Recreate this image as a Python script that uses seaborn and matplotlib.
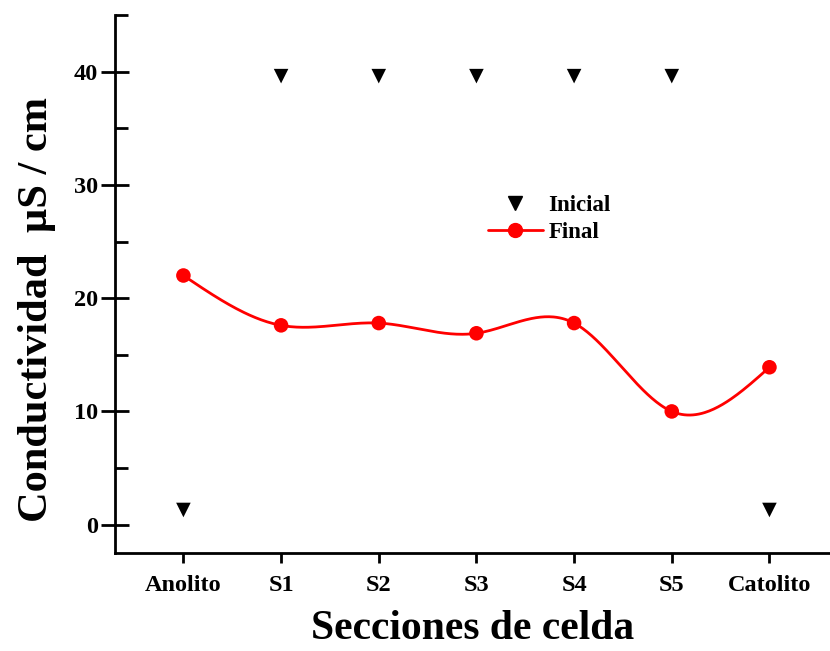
import numpy as np
import pandas as pd
import matplotlib
matplotlib.use("Agg")
import matplotlib.pyplot as plt
from matplotlib.lines import Line2D
from matplotlib.ticker import MultipleLocator
import seaborn as sns

# Conductivity per cell section
sections = ["Anolito", "S1", "S2", "S3", "S4", "S5", "Catolito"]
inicial = [1.3, 39.6, 39.6, 39.6, 39.6, 39.6, 1.3]
final = [22.0, 17.6, 17.8, 16.9, 17.8, 10.0, 13.9]

sns.set_theme(style="ticks")
plt.rcParams["font.family"] = ["Liberation Serif", "DejaVu Serif"]
plt.rcParams["font.weight"] = "bold"
plt.rcParams["text.color"] = "black"
plt.rcParams["axes.labelcolor"] = "black"
plt.rcParams["xtick.color"] = "black"
plt.rcParams["ytick.color"] = "black"


def natural_spline(x, y, n=400):
    """Natural cubic spline through (x, y), evaluated on a fine grid."""
    x = np.asarray(x, float)
    y = np.asarray(y, float)
    k = len(x)
    h = np.diff(x)
    A = np.zeros((k, k))
    b = np.zeros(k)
    A[0, 0] = A[-1, -1] = 1.0
    for i in range(1, k - 1):
        A[i, i - 1] = h[i - 1]
        A[i, i] = 2 * (h[i - 1] + h[i])
        A[i, i + 1] = h[i]
        b[i] = 6 * ((y[i + 1] - y[i]) / h[i] - (y[i] - y[i - 1]) / h[i - 1])
    m = np.linalg.solve(A, b)
    xs = np.linspace(x[0], x[-1], n)
    idx = np.clip(np.searchsorted(x, xs) - 1, 0, k - 2)
    x0, x1 = x[idx], x[idx + 1]
    hh = x1 - x0
    t0 = x1 - xs
    t1 = xs - x0
    ys = (m[idx] * t0 ** 3 + m[idx + 1] * t1 ** 3) / (6 * hh) \
        + (y[idx] / hh - m[idx] * hh / 6) * t0 \
        + (y[idx + 1] / hh - m[idx + 1] * hh / 6) * t1
    return xs, ys


pos = np.arange(len(sections))
df = pd.DataFrame({"pos": pos, "section": sections, "Inicial": inicial, "Final": final})

fig = plt.figure(figsize=(8.30, 6.51), dpi=100)
ax = fig.add_axes([0.1386, 0.1505, 0.8614, 0.8265])

xs, ys = natural_spline(df["pos"], df["Final"])
ax.plot(xs, ys, color="red", lw=2, zorder=2)
sns.scatterplot(data=df, x="pos", y="Final", ax=ax, color="red", marker="o",
                s=110, edgecolor="none", zorder=3, legend=False)
sns.scatterplot(data=df, x="pos", y="Inicial", ax=ax, color="black", marker="v",
                s=110, edgecolor="none", zorder=3, legend=False)

ax.set_xlim(-0.7, 6.62)
ax.set_ylim(-2.5, 45)
ax.set_xticks(pos)
ax.set_xticklabels(sections)
ax.yaxis.set_major_locator(MultipleLocator(10))
ax.yaxis.set_minor_locator(MultipleLocator(5))
ax.set_yticks([0, 10, 20, 30, 40])

for s in ["top", "right"]:
    ax.spines[s].set_visible(False)
for s in ["left", "bottom"]:
    ax.spines[s].set_linewidth(2)
    ax.spines[s].set_color("black")

ax.tick_params(axis="y", which="major", direction="inout", length=20, width=2,
               labelsize=17.5, pad=2, colors="black")
ax.tick_params(axis="y", which="minor", direction="in", length=9.5, width=2)
ax.tick_params(axis="x", which="major", direction="out", length=7, width=2,
               labelsize=17.5, pad=9, colors="black")
for lab in ax.get_xticklabels() + ax.get_yticklabels():
    lab.set_fontweight("bold")

ax.set_xlabel("Secciones de celda", fontsize=30, fontweight="bold", labelpad=10)
ax.set_ylabel("Conductividad  µS / cm", fontsize=30.5, fontweight="bold")
ax.yaxis.set_label_coords(-0.083, 0.452)

handles = [
    Line2D([], [], color="black", marker="v", linestyle="none", markersize=10),
    Line2D([], [], color="red", marker="o", lw=2, markersize=10),
]
ax.legend(handles, ["Inicial", "Final"], loc="center left",
          bbox_to_anchor=(467 / 830, 1 - 219 / 651),
          bbox_transform=fig.transFigure, frameon=False,
          prop={"size": 16.5, "weight": "bold"}, handlelength=2.4,
          handletextpad=0.25, labelspacing=0.3, borderpad=0.4)

fig.savefig("out.png", dpi=100)
